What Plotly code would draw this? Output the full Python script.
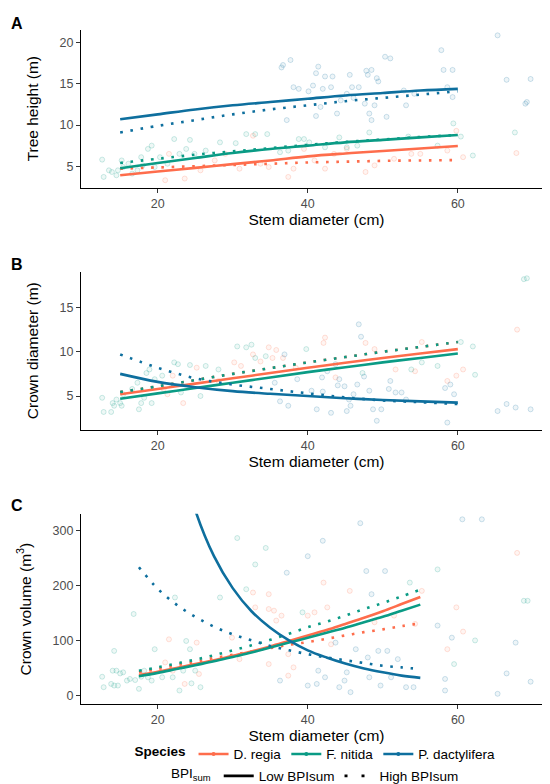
import plotly.graph_objects as go

# ---------------- colours ----------------
COL_DR = "#FE6D4C"   # D. regia
COL_FN = "#0A9B85"   # F. nitida
COL_PD = "#0E6F9E"   # P. dactylifera
SPECIES = ["D. regia", "F. nitida", "P. dactylifera"]

# ---------------- fitted curves ----------------
X_FIT_AB = [15, 20, 25, 30, 35, 40, 45, 50, 55, 60]
A_DR_LOW = [3.9, 4.35, 4.8, 5.25, 5.7, 6.2, 6.55, 6.85, 7.15, 7.45]
A_DR_HIGH = [4.7, 4.85, 5.0, 5.15, 5.3, 5.45, 5.55, 5.65, 5.7, 5.75]
A_FN_LOW = [4.75, 5.4, 6.0, 6.6, 7.1, 7.5, 7.9, 8.2, 8.5, 8.8]
A_FN_HIGH = [5.4, 5.9, 6.4, 6.8, 7.2, 7.6, 7.95, 8.25, 8.55, 8.8]
A_PD_LOW = [10.7, 11.3, 11.9, 12.4, 12.8, 13.2, 13.6, 13.9, 14.2, 14.4]
A_PD_HIGH = [9.1, 9.9, 10.6, 11.3, 11.9, 12.4, 12.9, 13.3, 13.7, 14.1]

B_DR_LOW = [5.2, 5.8, 6.4, 7.0, 7.6, 8.2, 8.75, 9.3, 9.8, 10.3]
B_DR_HIGH = [5.45, 6.1, 6.8, 7.5, 8.15, 8.8, 9.4, 10.0, 10.55, 11.1]
B_FN_LOW = [4.7, 5.3, 5.9, 6.5, 7.1, 7.7, 8.25, 8.8, 9.3, 9.8]
B_FN_HIGH = [5.45, 6.1, 6.8, 7.5, 8.15, 8.8, 9.4, 10.0, 10.55, 11.1]
B_PD_LOW = [7.5, 6.6, 6.0, 5.55, 5.25, 5.0, 4.75, 4.55, 4.4, 4.25]
B_PD_HIGH = [9.7, 8.2, 7.0, 6.3, 5.8, 5.3, 4.85, 4.5, 4.3, 4.1]

X_FIT_C = [17.5, 20, 22.5, 25, 27.5, 30, 32.5, 35, 37.5, 40, 42.5, 45, 47.5, 50, 52.5, 55]
C_DR_LOW = [37, 43, 50, 57, 64, 72, 80, 89, 99, 109, 119, 130, 141, 153, 166, 179]
C_DR_HIGH = [42, 48, 55, 61, 68, 74, 80, 86, 92, 97, 103, 109, 115, 120, 126, 131]
C_FN_LOW = [35, 41, 48, 55, 62, 70, 78, 87, 96, 105, 114, 123, 133, 143, 154, 165]
C_FN_HIGH = [45, 51, 58, 65, 73, 82, 91, 101, 112, 124, 134, 145, 157, 168, 180, 192]
C_PD_LOW = [980, 665, 465, 337, 253, 195, 153, 123, 100, 82, 69, 58, 49, 42, 36, 32]
C_PD_HIGH = [233, 194, 165, 143, 125, 111, 100, 90, 82, 75, 69, 64, 59, 54, 51, 48]

# ---------------- observations ----------------
A_FN_X = [12.6, 12.8, 13.5, 13.9, 14.5, 14.7, 15.2, 15.4, 16.1, 16.6, 17.3, 17.8, 18.0, 18.7, 19.2,
          19.6, 20.3, 21.3, 22.2, 22.9, 23.8, 24.3, 24.9, 26.4, 28.3, 30.4, 31.8, 33.0, 34.6, 36.3,
          37.4, 38.8, 39.5, 40.2, 42.3, 44.2, 45.2, 46.6, 48.2, 53.4, 57.3, 59.4, 60.4, 62.0, 67.6]
A_FN_Y = [5.8, 3.7, 4.5, 4.3, 3.9, 4.5, 5.7, 4.9, 5.3, 4.1, 4.5, 6.1, 5.1, 7.1, 7.5,
          4.9, 6.1, 5.3, 8.3, 6.5, 7.1, 8.2, 6.5, 6.9, 7.9, 7.8, 8.9, 8.9, 8.9, 6.7,
          6.9, 8.3, 8.3, 7.9, 7.3, 8.5, 7.3, 7.5, 9.1, 8.6, 7.5, 10.2, 8.6, 6.3, 9.1]
A_DR_X = [21.0, 21.5, 23.6, 25.7, 27.6, 29.0, 30.9, 32.7, 33.7, 34.8, 37.4, 38.1, 39.5, 40.9, 42.3,
          43.5, 45.2, 47.7, 48.9, 51.5, 53.8, 55.0, 58.6, 59.8, 60.7, 67.8]
A_DR_Y = [3.3, 6.5, 3.5, 4.5, 5.7, 6.5, 4.7, 8.7, 5.3, 4.9, 3.7, 4.7, 7.1, 5.7, 4.7,
          6.5, 7.1, 4.3, 5.1, 5.9, 6.5, 6.5, 6.9, 9.3, 6.1, 6.6]
A_PD_X = [36.5, 36.7, 37.7, 37.2, 38.1, 38.8, 40.1, 40.7, 41.1, 41.4, 41.1, 41.7, 42.0, 42.3, 43.1,
          43.3, 43.9, 44.4, 45.2, 45.6, 45.9, 46.1, 46.8, 47.6, 47.8, 48.0, 48.5, 48.2, 48.5, 48.9,
          49.2, 49.4, 50.3, 51.0, 50.5, 52.8, 53.1, 54.2, 57.8, 58.1, 58.6, 59.3, 59.3, 65.3, 66.5,
          69.0, 69.2, 69.7]
A_PD_Y = [17.0, 17.3, 17.9, 10.6, 14.6, 14.4, 14.1, 14.8, 16.3, 17.1, 11.1, 12.2, 14.4, 15.9, 14.6,
          15.9, 11.4, 13.0, 13.8, 16.1, 14.6, 13.3, 14.6, 12.6, 16.6, 16.1, 16.7, 11.4, 10.6, 12.4,
          15.7, 15.3, 18.3, 18.1, 11.0, 14.2, 12.4, 13.8, 19.1, 16.7, 14.6, 16.7, 13.4, 20.9, 15.5,
          12.6, 12.8, 15.6]

B_FN_X = [12.6, 12.8, 13.8, 14.0, 14.2, 14.5, 15.0, 15.2, 15.4, 16.6, 17.3, 17.5, 17.8, 18.2, 18.5,
          18.9, 19.2, 19.6, 20.6, 22.2, 22.7, 23.1, 24.3, 25.7, 26.4, 28.1, 30.6, 31.8, 32.5, 33.0,
          34.4, 39.8, 47.3, 53.8, 55.2, 57.3, 60.4, 62.0, 62.3, 68.8, 69.2]
B_FN_Y = [4.8, 3.2, 3.2, 4.2, 3.9, 4.6, 4.2, 3.9, 5.2, 5.8, 6.5, 3.5, 4.2, 4.8, 7.6,
          8.0, 4.2, 6.9, 7.3, 8.8, 8.6, 5.4, 8.5, 5.0, 8.4, 8.0, 10.6, 10.5, 10.8, 9.3,
          9.5, 10.3, 7.6, 8.0, 8.8, 8.4, 11.1, 10.6, 7.4, 18.2, 18.3]
B_DR_X = [20.8, 21.3, 22.0, 23.4, 25.2, 28.1, 30.2, 31.1, 32.7, 33.7, 34.8, 35.3, 35.8, 36.7, 38.4,
          42.1, 42.3, 43.7, 47.7, 48.9, 51.7, 54.3, 55.2, 58.6, 59.8, 60.7, 67.9]
B_DR_Y = [5.8, 5.2, 7.3, 4.2, 8.2, 6.7, 8.8, 8.4, 9.7, 8.9, 10.5, 9.3, 10.2, 9.3, 8.2,
          11.0, 11.6, 7.1, 11.0, 10.3, 8.0, 7.8, 11.1, 6.7, 7.3, 8.0, 12.5]
B_PD_X = [35.6, 36.3, 37.4, 36.9, 38.6, 41.2, 41.9, 42.6, 43.1, 43.7, 44.2, 44.9, 45.2, 45.7, 46.1,
          46.6, 46.8, 47.1, 48.2, 48.7, 49.2, 49.8, 50.8, 51.0, 51.7, 53.1, 58.3, 58.6, 59.0, 59.5,
          65.3, 66.5, 67.7, 69.7, 40.5, 42.0, 44.0, 45.5, 47.5, 52.5]
B_PD_Y = [6.5, 4.4, 3.9, 9.7, 6.9, 3.5, 7.1, 7.8, 3.1, 8.6, 6.9, 6.1, 3.3, 3.9, 5.2,
          6.3, 13.1, 11.7, 5.6, 3.5, 2.2, 3.5, 5.8, 6.7, 5.4, 4.6, 5.9, 2.0, 6.3, 5.2,
          3.3, 4.1, 3.7, 3.5, 5.6, 5.5, 6.2, 4.6, 7.2, 5.4]

C_FN_X = [12.6, 12.8, 13.8, 14.0, 14.2, 14.5, 14.7, 15.0, 15.4, 14.2, 15.9, 16.3, 16.8, 17.0, 17.5,
          17.8, 18.2, 18.7, 19.2, 19.6, 20.6, 22.0, 22.3, 22.9, 23.4, 23.8, 24.3, 24.5, 25.0, 25.7,
          28.3, 30.6, 31.8, 33.0, 34.4, 39.3, 53.6, 57.3, 59.5, 62.3, 68.8, 69.3]
C_FN_Y = [34, 15, 21, 45, 18, 45, 18, 40, 42, 81, 27, 30, 148, 28, 12,
          34, 45, 33, 27, 84, 33, 33, 178, 9, 45, 99, 84, 22, 45, 15,
          178, 286, 193, 238, 268, 151, 205, 229, 57, 100, 172, 172]
C_DR_X = [21.5, 21.0, 22.0, 23.6, 25.2, 25.5, 29.9, 30.9, 32.7, 33.0, 34.8, 34.8, 35.5, 35.8, 34.8,
          36.5, 37.4, 38.1, 37.4, 40.0, 40.9, 42.1, 42.6, 43.1, 45.6, 48.9, 51.5, 55.2, 54.3, 58.6,
          59.8, 60.7, 67.9]
C_DR_Y = [102, 60, 45, 21, 96, 39, 105, 66, 187, 160, 184, 157, 154, 136, 57,
          145, 36, 51, 75, 145, 151, 205, 160, 93, 190, 133, 145, 190, 130, 84,
          160, 116, 259]
C_PD_X = [36.3, 37.2, 40.0, 40.0, 41.2, 41.4, 42.0, 42.3, 43.7, 44.2, 44.9, 45.2, 45.7, 46.4, 47.0,
          47.8, 48.0, 48.2, 48.5, 49.4, 49.7, 50.3, 50.6, 51.1, 52.0, 53.1, 54.1, 57.3, 58.3, 58.3,
          59.2, 60.6, 63.2, 65.3, 66.5, 67.7, 69.7]
C_PD_Y = [27, 223, 253, 18, 21, 45, 281, 33, 96, 15, 27, 42, 6, 84, 313,
          226, 69, 33, 184, 81, 18, 226, 81, 33, 66, 15, 15, 127, 30, 9,
          105, 320, 320, 3, 40, 96, 25]

X_TICKS = [20, 40, 60]
A_Y_TICKS = [5, 10, 15, 20]
B_Y_TICKS = [5, 10, 15]
C_Y_TICKS = [0, 100, 200, 300]

FONT = "Liberation Sans, Arial, sans-serif"
DOT = "2.6px,7.7px"
LW = 2.6


def rgba(hexc, a):
    h = hexc.lstrip("#")
    r, g, b = int(h[0:2], 16), int(h[2:4], 16), int(h[4:6], 16)
    return f"rgba({r},{g},{b},{a})"


fig = go.Figure()


def add_points(xs, ys, col, xa, ya):
    fig.add_trace(go.Scatter(
        x=xs, y=ys, mode="markers", xaxis=xa, yaxis=ya, showlegend=False,
        marker=dict(size=5, color=rgba(col, 0.07), line=dict(color=rgba(col, 0.2), width=1)),
        hoverinfo="skip"))


def add_line(xs, ys, col, dash, xa, ya):
    fig.add_trace(go.Scatter(
        x=xs, y=ys, mode="lines", xaxis=xa, yaxis=ya, showlegend=False,
        line=dict(color=col, width=LW, dash=dash, shape="spline", smoothing=1.0),
        hoverinfo="skip"))


panels = [
    ("x", "y", X_FIT_AB,
     [(A_DR_X, A_DR_Y, COL_DR), (A_FN_X, A_FN_Y, COL_FN), (A_PD_X, A_PD_Y, COL_PD)],
     [(A_DR_LOW, A_DR_HIGH, COL_DR), (A_FN_LOW, A_FN_HIGH, COL_FN), (A_PD_LOW, A_PD_HIGH, COL_PD)]),
    ("x2", "y2", X_FIT_AB,
     [(B_DR_X, B_DR_Y, COL_DR), (B_FN_X, B_FN_Y, COL_FN), (B_PD_X, B_PD_Y, COL_PD)],
     [(B_DR_LOW, B_DR_HIGH, COL_DR), (B_FN_LOW, B_FN_HIGH, COL_FN), (B_PD_LOW, B_PD_HIGH, COL_PD)]),
    ("x3", "y3", X_FIT_C,
     [(C_DR_X, C_DR_Y, COL_DR), (C_FN_X, C_FN_Y, COL_FN), (C_PD_X, C_PD_Y, COL_PD)],
     [(C_DR_LOW, C_DR_HIGH, COL_DR), (C_FN_LOW, C_FN_HIGH, COL_FN), (C_PD_LOW, C_PD_HIGH, COL_PD)]),
]

for xa, ya, xfit, pts, fits in panels:
    for xs, ys, col in pts:
        add_points(xs, ys, col, xa, ya)
    for low, high, col in fits:
        add_line(xfit, high, col, DOT, xa, ya)
        add_line(xfit, low, col, "solid", xa, ya)

# legend entries
for name, col in zip(SPECIES, [COL_DR, COL_FN, COL_PD]):
    fig.add_trace(go.Scatter(x=[None], y=[None], mode="lines+markers", name=name,
                             line=dict(color=col, width=LW), marker=dict(color=col, size=4),
                             legend="legend", showlegend=True))
for name, dash in [("Low BPIsum", "solid"), ("High BPIsum", "3px,14px")]:
    fig.add_trace(go.Scatter(x=[None], y=[None], mode="lines", name=name,
                             line=dict(color="black", width=LW, dash=dash),
                             legend="legend2", showlegend=True))


def xaxis_cfg(anchor):
    return dict(domain=[0, 1], anchor=anchor, range=[9.78, 72.55], tickvals=X_TICKS,
                showline=True, linecolor="black", linewidth=1.1, ticks="outside", ticklen=4,
                tickcolor="#333333", tickwidth=1.1, showgrid=False, zeroline=False,
                tickfont=dict(size=12.5, color="#4D4D4D", family=FONT),
                title=dict(text="Stem diameter (cm)", font=dict(size=15.5, color="black", family=FONT),
                           standoff=3))


def yaxis_cfg(anchor, dom, rng, ticks, title):
    return dict(domain=dom, anchor=anchor, range=rng, tickvals=ticks,
                showline=True, linecolor="black", linewidth=1.1, ticks="outside", ticklen=4,
                tickcolor="#333333", tickwidth=1.1, showgrid=False, zeroline=False,
                tickfont=dict(size=12.5, color="#4D4D4D", family=FONT),
                title=dict(text=title, font=dict(size=15.5, color="black", family=FONT), standoff=17))


H = 784
fig.update_layout(
    width=550, height=H,
    margin=dict(l=73, r=6, t=0, b=0),
    paper_bgcolor="white", plot_bgcolor="white",
    font=dict(family=FONT, color="black"),
    xaxis=xaxis_cfg("y"),
    yaxis=yaxis_cfg("x", [1 - 180.7 / H, 1 - 21.7 / H], [2.38, 21.6], A_Y_TICKS, "Tree height (m)"),
    xaxis2=xaxis_cfg("y2"),
    yaxis2=yaxis_cfg("x2", [1 - 424 / H, 1 - 265 / H], [1.18, 19.05], B_Y_TICKS, "Crown diameter (m)"),
    xaxis3=xaxis_cfg("y3"),
    yaxis3=yaxis_cfg("x3", [1 - 700 / H, 1 - 508.3 / H], [-16.3, 330.2], C_Y_TICKS,
                     "Crown volume (m<sup>3</sup>)"),
    legend=dict(orientation="h", x=0.5, xanchor="center", y=1 - 750 / H, yanchor="middle",
                title=dict(text="<b>Species</b>", side="left", font=dict(size=13.5)),
                font=dict(size=13.5, family=FONT), itemwidth=30, bgcolor="rgba(0,0,0,0)"),
    legend2=dict(orientation="h", x=0.5, xanchor="center", y=1 - 772 / H, yanchor="middle",
                 title=dict(text="BPI<sub>sum</sub>", side="left", font=dict(size=13.5)),
                 font=dict(size=13.5, family=FONT), itemwidth=30, bgcolor="rgba(0,0,0,0)"),
    showlegend=True,
)

for lab, py in [("A", 15.5), ("B", 257.5), ("C", 500)]:
    fig.add_annotation(text=f"<b>{lab}</b>", xref="paper", yref="paper",
                       x=(9 - 73) / 471, y=1 - py / H, xanchor="center", yanchor="middle",
                       showarrow=False, font=dict(size=16, color="black", family=FONT))

fig.write_html("out.html")
